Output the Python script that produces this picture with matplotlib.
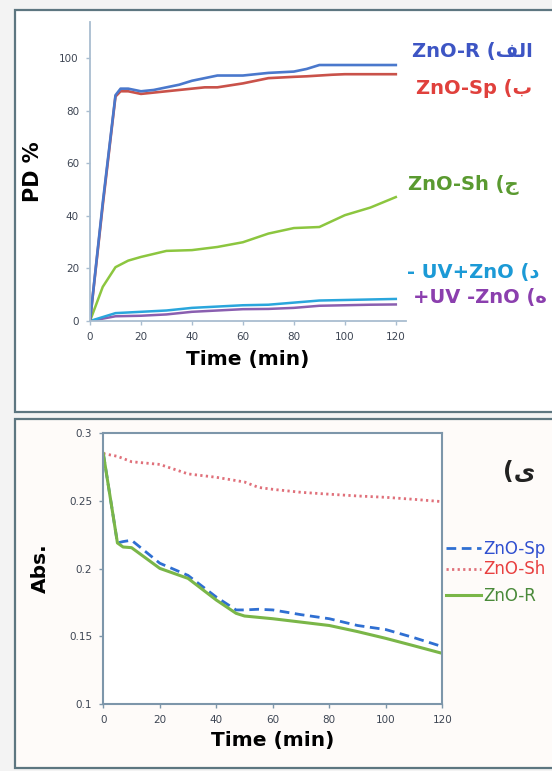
import matplotlib
matplotlib.use("Agg")
import matplotlib.pyplot as plt
from matplotlib.patches import Rectangle

# Colors
BLUE_R, RED_SP, GREEN_SH = '#4a78cc', '#c9524a', '#8cc63f'
CYAN, PURPLE = '#2aa6dc', '#8a5fb0'
TXT_R, TXT_SP, TXT_SH = '#3d55c4', '#e0403c', '#5a9a30'
TXT_CY, TXT_PU = '#1c9ad6', '#8b3fae'
SPINE_TOP, SPINE_BOT = '#a9bdd0', '#7d96aa'
TICK_TXT = '#3e4654'
BORDER = '#5d7680'

W, H = 552, 771

def fx(px):
    return px / W

def fy(py):
    return 1 - py / H

# Data: top panel (PD %)
t_fast = [0, 5, 10, 12, 15, 20, 25, 30, 35, 40, 45, 50, 60, 70, 80, 85, 90, 95, 100, 110, 120]
pd_r = [0, 45, 86, 88.5, 88.5, 87.5, 88, 89, 90, 91.5, 92.5, 93.5, 93.5, 94.5, 95, 96, 97.5, 97.5, 97.5, 97.5, 97.5]
pd_sp = [0, 44, 85.5, 87.5, 87.5, 86.5, 87, 87.5, 88, 88.5, 89, 89, 90.5, 92.5, 93, 93.2, 93.5, 93.8, 94, 94, 94]
t_sh = [0, 5, 10, 15, 20, 30, 40, 50, 60, 70, 80, 90, 100, 110, 120]
pd_sh = [0, 13, 20.5, 23, 24.4, 26.7, 27, 28.2, 30, 33.3, 35.4, 35.8, 40.3, 43.2, 47.2]
t_slow = [0, 10, 20, 30, 40, 50, 60, 70, 80, 90, 100, 110, 120]
pd_uv_zno = [0, 3, 3.5, 4, 5, 5.5, 6, 6.2, 7, 7.8, 8, 8.2, 8.4]
pd_uv_only = [0, 1.8, 2, 2.5, 3.5, 4, 4.5, 4.6, 5, 5.8, 6, 6.2, 6.3]

# Data: bottom panel (Abs.)
t_abs = [0, 5, 7, 10, 20, 30, 40, 47, 50, 55, 60, 70, 80, 90, 100, 110, 120]
abs_r = [0.285, 0.219, 0.216, 0.2155, 0.2002, 0.1928, 0.1768, 0.167, 0.165, 0.164, 0.163, 0.1605, 0.158, 0.1535, 0.1485, 0.143, 0.1374]
abs_sp = [0.285, 0.219, 0.220, 0.221, 0.204, 0.195, 0.179, 0.1695, 0.1695, 0.170, 0.1695, 0.166, 0.163, 0.158, 0.155, 0.149, 0.1424]
t_abs_sh = [0, 5, 10, 20, 30, 40, 50, 55, 60, 70, 80, 90, 100, 110, 120]
abs_sh = [0.285, 0.283, 0.279, 0.277, 0.270, 0.2675, 0.264, 0.260, 0.2586, 0.2564, 0.255, 0.2537, 0.2527, 0.2512, 0.2495]

x_ticks = [0, 20, 40, 60, 80, 100, 120]
pd_ticks = [0, 20, 40, 60, 80, 100]
abs_ticks = [0.1, 0.15, 0.2, 0.25, 0.3]

# Arabic letters in visual (left-to-right) order, presentation forms
ALEF_LAM_FEH = '\ufed2\ufedf\u0627'
top_labels = [
    ('ZnO-R (' + ALEF_LAM_FEH, 412, 52, TXT_R),
    ('ZnO-Sp (\u0628', 416, 89, TXT_SP),
    ('ZnO-Sh (\u062c', 408, 185, TXT_SH),
    ('- UV+ZnO (\u062f', 407, 272, TXT_CY),
    ('+UV -ZnO (\u0647', 413, 298, TXT_PU),
]

plt.rcParams['font.family'] = ['DejaVu Sans']

fig = plt.figure(figsize=(W / 100, H / 100), dpi=100, facecolor='#f3f3f3')

# Panel frames (behind the axes)
fig.patches.append(Rectangle((fx(15), fy(412)), 1.0, fy(10) - fy(412), transform=fig.transFigure,
                             facecolor='white', edgecolor=BORDER, lw=1.6, zorder=-5))
fig.patches.append(Rectangle((fx(15), fy(768)), 1.0, fy(419) - fy(768), transform=fig.transFigure,
                             facecolor='#fefbf9', edgecolor=BORDER, lw=1.6, zorder=-5))

# ---------------- Top panel ----------------
ax1 = fig.add_axes([fx(90), fy(321), fx(406) - fx(90), fy(21.7) - fy(321)])
ax1.patch.set_alpha(0)
ax1.plot(t_slow, pd_uv_only, color=PURPLE, lw=1.8)
ax1.plot(t_slow, pd_uv_zno, color=CYAN, lw=1.8)
ax1.plot(t_sh, pd_sh, color=GREEN_SH, lw=1.8)
ax1.plot(t_fast, pd_sp, color=RED_SP, lw=1.9)
ax1.plot(t_fast, pd_r, color=BLUE_R, lw=1.9)
ax1.set_xlim(0, 124)
ax1.set_ylim(0, 114)
ax1.set_xticks(x_ticks)
ax1.set_yticks(pd_ticks)
for s in ['top', 'right']:
    ax1.spines[s].set_visible(False)
for s in ['left', 'bottom']:
    ax1.spines[s].set_color(SPINE_TOP)
    ax1.spines[s].set_linewidth(1.3)
ax1.tick_params(direction='out', length=3, width=1, color=SPINE_TOP, labelsize=7.5,
                labelcolor=TICK_TXT, pad=5)
ax1.set_ylabel('PD %', fontsize=15, fontweight='bold', color='black', labelpad=12)
ax1.set_xlabel('Time (min)', fontsize=14.5, fontweight='bold', color='black', labelpad=6)

for txt, x, y, c in top_labels:
    fig.text(fx(x), fy(y), txt, color=c, fontsize=14, fontweight='bold', ha='left', va='center')

# ---------------- Bottom panel ----------------
ax2 = fig.add_axes([fx(103.3), fy(704), fx(442.3) - fx(103.3), fy(433.3) - fy(704)])
ax2.set_facecolor('white')
l_sp, = ax2.plot(t_abs, abs_sp, color='#2f6fd2', lw=2, ls=(0, (3.5, 2)), label='ZnO-Sp')
l_sh, = ax2.plot(t_abs_sh, abs_sh, color='#e0707a', lw=2, ls=(0, (0.8, 1.2)), label='ZnO-Sh')
l_r, = ax2.plot(t_abs, abs_r, color='#7ab648', lw=2.2, label='ZnO-R')
ax2.set_xlim(0, 120)
ax2.set_ylim(0.1, 0.3)
ax2.set_xticks(x_ticks)
ax2.set_yticks(abs_ticks)
ax2.set_yticklabels(['%g' % v for v in abs_ticks])
for s in ax2.spines.values():
    s.set_color(SPINE_BOT)
    s.set_linewidth(1.5)
ax2.tick_params(direction='out', length=3, width=1, color=SPINE_BOT, labelsize=7.5,
                labelcolor=TICK_TXT, pad=5)
ax2.set_ylabel('Abs.', fontsize=14.5, fontweight='bold', color='black', labelpad=14)
ax2.set_xlabel('Time (min)', fontsize=14.5, fontweight='bold', color='black', labelpad=4)

# Legend in two groups: the ZnO-R entry sits lower than the other two
leg_kw = dict(loc='upper left', bbox_transform=fig.transFigure, frameon=False,
              handlelength=2.1, handletextpad=0.15, labelspacing=0.15, borderaxespad=0,
              borderpad=0, prop={'size': 12})
leg1 = ax2.legend(handles=[l_sp, l_sh], bbox_to_anchor=(fx(446), fy(540)),
                  labelcolor=['#3050d0', '#e84040'], **leg_kw)
ax2.add_artist(leg1)
ax2.legend(handles=[l_r], bbox_to_anchor=(fx(446), fy(587)), labelcolor=['#4a8a3a'], **leg_kw)

fig.text(fx(503), fy(472), '(\u06cc', fontsize=17, fontweight='bold', color='#222222',
         ha='left', va='center')

fig.savefig('out.png', dpi=100, facecolor=fig.get_facecolor())
